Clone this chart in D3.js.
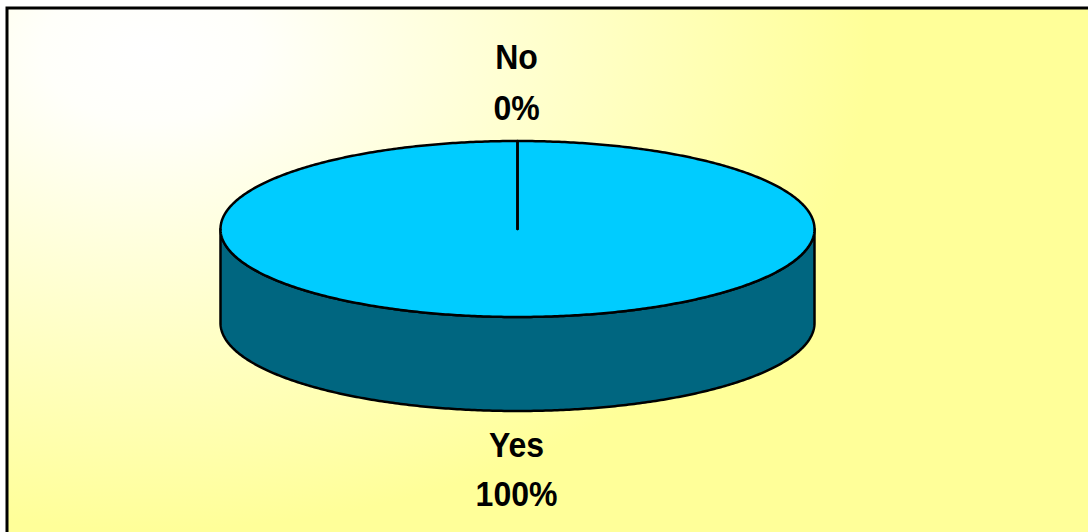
<!DOCTYPE html>
<html>
<head>
<meta charset="utf-8">
<script src="https://cdn.jsdelivr.net/npm/d3@7"></script>
<style>
  html, body { margin: 0; padding: 0; background: #fff; overflow: hidden; }
  svg { display: block; }
  .lbl { font-family: "Liberation Sans", Arial, sans-serif; font-weight: bold; font-size: 32px; fill: #000; }
</style>
</head>
<body>
<svg width="1088" height="532"></svg>
<script>
var categories = ["Yes", "No"];
var values = [100, 0];
var topColors = ["#00CCFF", "#993366"];
var sideColors = ["#006680", "#4d1933"];

var svg = d3.select("svg"),
    width = +svg.attr("width"),
    height = +svg.attr("height");

// background gradient, white near the top-left, yellow elsewhere
var defs = svg.append("defs");
var grad = defs.append("radialGradient")
    .attr("id", "bg")
    .attr("gradientUnits", "userSpaceOnUse")
    .attr("cx", 0).attr("cy", 0).attr("r", 1)
    .attr("gradientTransform", "translate(150,50) scale(720,480)");
grad.append("stop").attr("offset", "0").attr("stop-color", "#ffffff");
grad.append("stop").attr("offset", "0.15").attr("stop-color", "#fffffa");
grad.append("stop").attr("offset", "1").attr("stop-color", "#ffff99");

svg.append("rect")
    .attr("x", 7).attr("y", 8)
    .attr("width", width + 20).attr("height", height + 20)
    .attr("fill", "url(#bg)")
    .attr("stroke", "#000")
    .attr("stroke-width", 3);

var cx = 517.5, cy = 229, rx = 297, ry = 88, depth = 94;

function pt(a, dy) {
    return [cx + rx * Math.sin(a), cy - ry * Math.cos(a) + (dy || 0)];
}

function sample(a0, a1, dy) {
    var n = Math.max(2, Math.ceil(Math.abs(a1 - a0) / 0.01));
    return d3.range(n + 1).map(function(i) { return pt(a0 + (a1 - a0) * i / n, dy); });
}

var pie = d3.pie().sort(null).value(function(d) { return d; })
    .startAngle(0).endAngle(2 * Math.PI);
var arcs = pie(values);
var line = d3.line();

// sides (front half only)
var sides = svg.append("g");
arcs.forEach(function(d, i) {
    var a0 = Math.max(d.startAngle, Math.PI / 2),
        a1 = Math.min(d.endAngle, 3 * Math.PI / 2);
    if (a1 <= a0) return;
    var pts = sample(a0, a1, 0).concat(sample(a1, a0, depth));
    sides.append("path")
        .attr("d", line(pts) + "Z")
        .attr("fill", sideColors[i])
        .attr("stroke", "#000")
        .attr("stroke-width", 2.5)
        .attr("stroke-linejoin", "round");
});

// tops
var tops = svg.append("g");
arcs.forEach(function(d, i) {
    var pts = [[cx, cy]].concat(sample(d.startAngle, d.endAngle, 0));
    tops.append("path")
        .attr("d", line(pts) + "Z")
        .attr("fill", topColors[i])
        .attr("stroke", "#000")
        .attr("stroke-width", 2.5)
        .attr("stroke-linejoin", "round");
});

// labels: category + percent, outside each slice at its mid angle
var total = d3.sum(values);
var fmt = d3.format(".0%");
arcs.forEach(function(d, i) {
    var mid = (d.startAngle + d.endAngle) / 2;
    var front = Math.cos(mid) < 0;
    var p = pt(mid, front ? depth : 0);
    var lx = p[0] - 1;
    var ys = front ? [p[1] + 46, p[1] + 95] : [p[1] - 72, p[1] - 21];
    var g = svg.append("g");
    [categories[i], fmt(d.data / total)].forEach(function(t, k) {
        g.append("text")
            .attr("class", "lbl")
            .attr("text-anchor", "middle")
            .attr("transform", "translate(" + lx + "," + ys[k] + ") scale(1,1.1)")
            .text(t);
    });
});
</script>
</body>
</html>
